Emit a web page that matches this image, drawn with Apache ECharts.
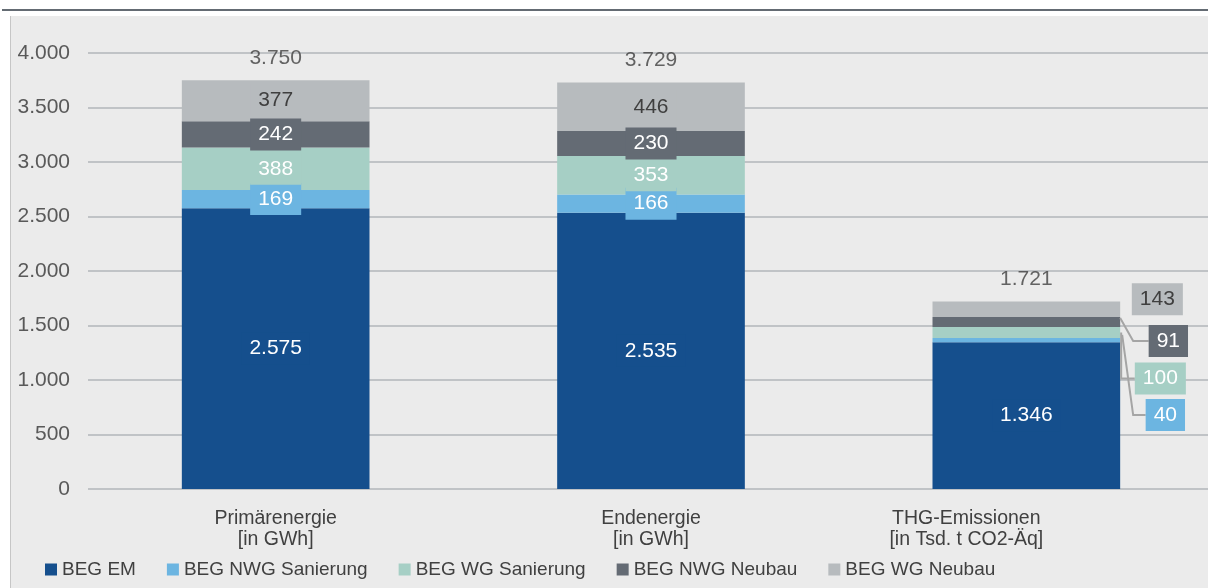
<!DOCTYPE html>
<html>
<head>
<meta charset="utf-8">
<script src="https://cdn.jsdelivr.net/npm/echarts@6/dist/echarts.min.js"></script>
<style>
  html, body { margin: 0; padding: 0; background: #ffffff; overflow: hidden; }
  #chart { width: 1214px; height: 588px; }
</style>
</head>
<body>
<div id="chart"></div>
<script>
// Categories (two-line axis labels)
const categories = ['Primärenergie\n[in GWh]', 'Endenergie\n[in GWh]', 'THG-Emissionen\n[in Tsd. t CO2-Äq]'];

// Stacked components per category
const begEM      = [2575, 2535, 1346];
const begNwgSan  = [169, 166, 40];
const begWgSan   = [388, 353, 100];
const begNwgNeu  = [242, 230, 91];
const begWgNeu   = [377, 446, 143];

// Totals shown above each stack
const totals = [3750, 3729, 1721];

// Value axis
const yMin = 0, yMax = 4000, yStep = 500;

const FONT = '"Liberation Sans", Arial, sans-serif';
const CALLOUT_CAT = 2;   // the THG stack, whose thin segments are labelled beside the bar

function de(n) {
  return String(n).replace(/\B(?=(\d{3})+(?!\d))/g, '.');
}

const stackDefs = [
  { name: 'BEG EM',            values: begEM,     color: '#154f8d', text: '#ffffff' },
  { name: 'BEG NWG Sanierung', values: begNwgSan, color: '#6cb5e1', text: '#ffffff',
    callout: { dx: 139, dy: 75, guide: 'diag' } },
  { name: 'BEG WG Sanierung',  values: begWgSan,  color: '#a6cfc5', text: '#ffffff',
    callout: { dx: 134, dy: 46, guide: 'vert' } },
  { name: 'BEG NWG Neubau',    values: begNwgNeu, color: '#646b74', text: '#ffffff',
    callout: { dx: 142, dy: 19, guide: 'top' } },
  { name: 'BEG WG Neubau',     values: begWgNeu,  color: '#b7bbbe', text: '#3f3f3f',
    callout: { dx: 131, dy: -10, guide: null } }
];

const barSeries = stackDefs.map(d => ({
  name: d.name,
  type: 'bar',
  stack: 'total',
  barWidth: '50%',
  itemStyle: { color: d.color },
  label: {
    show: true,
    position: 'inside',
    formatter: p => de(p.value),
    color: d.text,
    fontFamily: FONT,
    fontSize: 21,
    lineHeight: 22,
    backgroundColor: d.color,
    padding: [5, 8]
  },
  data: d.values.map((v, i) => (d.callout && i === CALLOUT_CAT)
    ? { value: v, label: { show: false } }
    : v)
}));

// Callout items: [category, stack base, stack top, definition index]
const calloutData = [];
{
  let base = 0;
  stackDefs.forEach((d, k) => {
    const v = d.values[CALLOUT_CAT];
    if (d.callout) calloutData.push([CALLOUT_CAT, base, base + v, k]);
    base += v;
  });
}

function renderCallout(params, api) {
  const def = stackDefs[api.value(3)];
  const c = def.callout;
  const lo = api.coord([api.value(0), api.value(1)]);
  const hi = api.coord([api.value(0), api.value(2)]);
  const halfW = api.size([1, 0])[0] * 0.25;
  const cx = lo[0];
  const right = cx + halfW;
  const midY = (lo[1] + hi[1]) / 2;
  const lxc = cx + c.dx;
  const ly = midY + c.dy;
  const txt = de(def.values[CALLOUT_CAT]);
  const textW = echarts.format.getTextRect
    ? echarts.format.getTextRect(txt, '21px ' + FONT).width
    : txt.length * 11.7;
  const boxLeft = lxc - textW / 2 - 8;

  const children = [];
  if (c.guide) {
    let pts;
    if (c.guide === 'top') pts = [[right, hi[1] + 1], [right + 13, ly], [boxLeft, ly]];
    else if (c.guide === 'vert') pts = [[right + 1, midY], [right + 1, ly], [boxLeft, ly]];
    else pts = [[right + 2, hi[1] - 3], [right + 13, ly], [boxLeft, ly]];
    children.push({
      type: 'polyline',
      shape: { points: pts },
      style: { stroke: '#a5a5a5', lineWidth: 2, fill: null }
    });
  }
  children.push({
    type: 'text',
    x: lxc,
    y: ly,
    style: {
      text: txt,
      fill: def.text,
      font: '21px ' + FONT,
      align: 'center',
      verticalAlign: 'middle',
      lineHeight: 22,
      backgroundColor: def.color,
      padding: [5, 8]
    }
  });
  return { type: 'group', children: children };
}

const chart = echarts.init(document.getElementById('chart'), null, { renderer: 'canvas' });

chart.setOption({
  backgroundColor: '#ffffff',
  animation: false,
  graphic: [
    { type: 'rect', silent: true, z: -10, shape: { x: 10, y: 16, width: 1210, height: 580 }, style: { fill: '#ebebeb' } },
    { type: 'line', silent: true, z: -9, shape: { x1: 10.5, y1: 16, x2: 10.5, y2: 588 }, style: { stroke: '#c6c6c6', lineWidth: 1 } },
    { type: 'rect', silent: true, z: -9, shape: { x: 2, y: 9, width: 1212, height: 2 }, style: { fill: '#646b73' } }
  ],
  grid: { left: 88, right: 0, top: 53, bottom: 99, containLabel: false },
  legend: {
    left: 40,
    top: 555,
    itemWidth: 12,
    itemHeight: 12,
    itemGap: 31,
    icon: 'rect',
    textStyle: { fontFamily: FONT, fontSize: 19, color: '#404040' },
    data: stackDefs.map(d => d.name)
  },
  xAxis: {
    type: 'category',
    data: categories.map((c, i) => i === 2
      ? { value: c, textStyle: { padding: [0, 120, 0, 0] } }
      : c),
    axisLine: { show: false },
    axisTick: { show: false },
    axisLabel: {
      fontFamily: FONT,
      fontSize: 19.5,
      lineHeight: 21,
      color: '#404040',
      margin: 19,
      interval: 0
    }
  },
  yAxis: {
    type: 'value',
    min: yMin,
    max: yMax,
    interval: yStep,
    axisLine: { show: false },
    axisTick: { show: false },
    splitLine: { lineStyle: { color: '#c0c3c6', width: 2 } },
    axisLabel: {
      fontFamily: FONT,
      fontSize: 21,
      color: '#595959',
      margin: 18,
      formatter: v => de(v)
    }
  },
  series: barSeries.concat([
    {
      name: 'Callouts',
      type: 'custom',
      z: 4,
      silent: true,
      renderItem: renderCallout,
      encode: { x: 0, y: [1, 2] },
      data: calloutData
    },
    {
      name: 'Summe',
      type: 'scatter',
      symbolSize: 1,
      itemStyle: { color: 'rgba(0,0,0,0)' },
      silent: true,
      label: {
        show: true,
        position: 'top',
        distance: 11,
        formatter: p => de(p.value),
        fontFamily: FONT,
        fontSize: 21,
        color: '#404040'
      },
      data: totals
    }
  ])
});
</script>
</body>
</html>
